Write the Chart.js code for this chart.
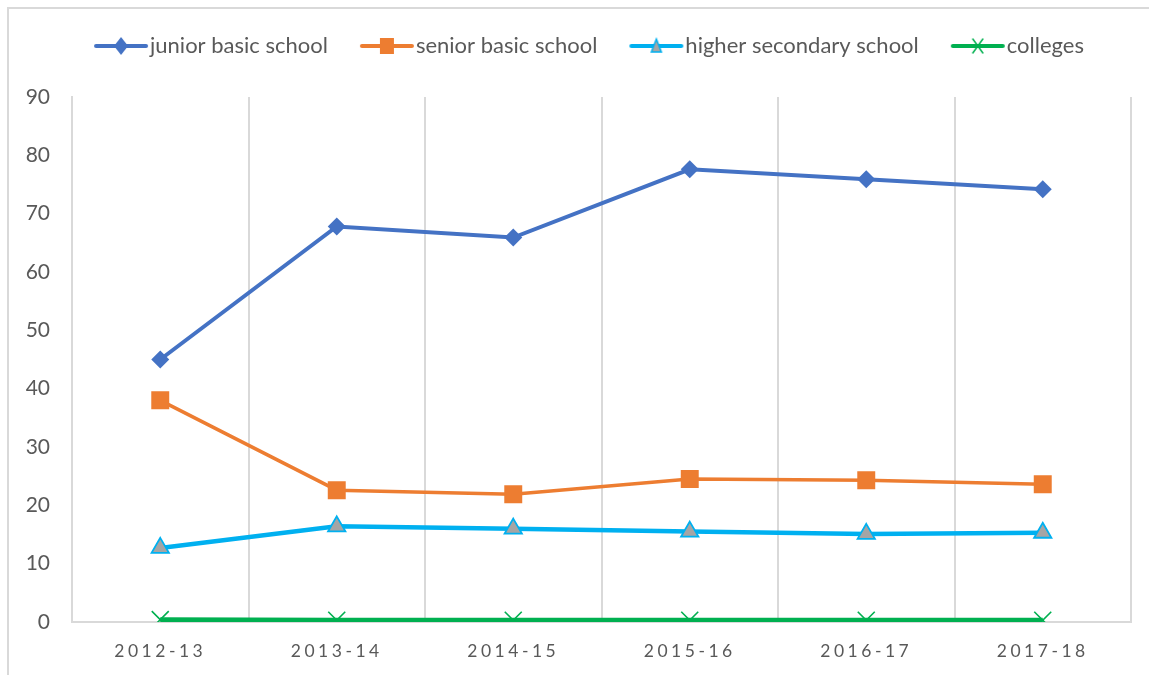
<!DOCTYPE html>
<html>
<head>
<meta charset="utf-8">
<script src="https://cdn.jsdelivr.net/npm/chart.js@4.4.1/dist/chart.umd.min.js"></script>
<style>
  html, body { margin: 0; padding: 0; background: #ffffff; }
  #wrap { position: relative; width: 1149px; height: 675px; }
  canvas { display: block; }
</style>
</head>
<body>
<div id="wrap"><canvas id="c" width="1149" height="675"></canvas></div>
<script>
const categories = ["2012-13", "2013-14", "2014-15", "2015-16", "2016-17", "2017-18"];
const juniorBasic = [45.0, 67.8, 65.9, 77.6, 75.9, 74.2];
const seniorBasic = [38.0, 22.6, 21.9, 24.5, 24.3, 23.6];
const higherSecondary = [12.7, 16.4, 16.0, 15.5, 15.1, 15.3];
const colleges = [0.4, 0.3, 0.3, 0.3, 0.3, 0.3];
const seriesNames = ["junior basic school", "senior basic school", "higher secondary school", "colleges"];
const yTicks = [0, 10, 20, 30, 40, 50, 60, 70, 80, 90];

const FONT = "Lato, 'Open Sans', 'DejaVu Sans', sans-serif";

function legendIcon(color, kind, fill) {
  const w = 56, h = 20;
  const c = document.createElement('canvas');
  c.width = w; c.height = h;
  const x = c.getContext('2d');
  x.strokeStyle = color; x.lineWidth = 4; x.lineCap = 'round';
  x.beginPath(); x.moveTo(3, h / 2); x.lineTo(w - 3, h / 2); x.stroke();
  const cx = w / 2, cy = h / 2;
  if (kind === 'diamond') {
    x.fillStyle = color; x.beginPath();
    x.moveTo(cx, cy - 9); x.lineTo(cx + 7, cy); x.lineTo(cx, cy + 9); x.lineTo(cx - 7, cy); x.closePath(); x.fill();
  } else if (kind === 'square') {
    x.fillStyle = color; x.fillRect(cx - 7, cy - 8, 14, 16);
  } else if (kind === 'triangle') {
    x.fillStyle = fill; x.lineWidth = 1.5; x.strokeStyle = color;
    x.beginPath(); x.moveTo(cx, cy - 7); x.lineTo(cx + 5, cy + 6); x.lineTo(cx - 5, cy + 6); x.closePath(); x.fill(); x.stroke();
  } else if (kind === 'cross') {
    x.strokeStyle = color; x.lineWidth = 1.5;
    x.beginPath(); x.moveTo(cx - 5, cy - 7); x.lineTo(cx + 5, cy + 7); x.moveTo(cx + 5, cy - 7); x.lineTo(cx - 5, cy + 7); x.stroke();
  }
  return c;
}

const icons = [
  legendIcon('#4472C4', 'diamond'),
  legendIcon('#ED7D31', 'square'),
  legendIcon('#00B0F0', 'triangle', '#A5A5A5'),
  legendIcon('#00B050', 'cross')
];

const frame = {
  id: 'frame',
  beforeDraw(chart) {
    const ctx = chart.ctx;
    ctx.save();
    ctx.strokeStyle = '#d9d9d9';
    ctx.lineWidth = 2;
    ctx.beginPath();
    ctx.moveTo(8, 675); ctx.lineTo(8, 8); ctx.lineTo(1149, 8);
    ctx.stroke();
    ctx.restore();
  }
};

const LEGEND_DX = 28, LEGEND_DY = -6, LEGEND_BOX_H = 97;
const tweaks = {
  id: 'tweaks',
  afterInit(chart) {
    const lg = chart.legend;
    if (lg && !lg._patched) {
      const of = lg.fit;
      lg.fit = function () { of.call(this); this.height = LEGEND_BOX_H; };
      const od = lg.draw;
      lg.draw = function () {
        const ctx = this.ctx;
        ctx.save(); ctx.translate(LEGEND_DX, LEGEND_DY); od.call(this); ctx.restore();
      };
      lg._patched = true;
    }
  },
  afterUpdate(chart) {
    const s = chart.scales.x;
    if (s && !s._spacedPatched) {
      const orig = s.drawLabels;
      s.drawLabels = function (area) {
        const ctx = this.ctx;
        ctx.save();
        ctx.letterSpacing = '3.5px';
        orig.call(this, area);
        ctx.restore();
      };
      s._spacedPatched = true;
    }
  }
};

new Chart(document.getElementById('c'), {
  type: 'line',
  data: {
    labels: categories,
    datasets: [
      { label: seriesNames[0], data: juniorBasic, borderColor: '#4472C4', backgroundColor: '#4472C4',
        borderWidth: 4, pointStyle: 'rectRot', pointRadius: 9, pointBorderWidth: 0, pointBackgroundColor: '#4472C4' },
      { label: seriesNames[1], data: seniorBasic, borderColor: '#ED7D31', backgroundColor: '#ED7D31',
        borderWidth: 3.5, pointStyle: 'rect', pointRadius: 12.7, pointBorderWidth: 0, pointBackgroundColor: '#ED7D31' },
      { label: seriesNames[2], data: higherSecondary, borderColor: '#00B0F0', backgroundColor: '#A5A5A5',
        borderWidth: 4.5, pointStyle: 'triangle', pointRadius: 10, pointBorderWidth: 1.8, pointBorderColor: '#00B0F0', pointBackgroundColor: '#A5A5A5' },
      { label: seriesNames[3], data: colleges, borderColor: '#00B050', backgroundColor: '#00B050',
        borderWidth: 5, pointStyle: 'crossRot', pointRadius: 12, pointBorderWidth: 1.6, pointBorderColor: '#00B050' }
    ]
  },
  options: {
    responsive: false,
    animation: false,
    layout: { padding: { left: 0, right: 18, top: 0, bottom: 0 } },
    plugins: {
      tooltip: { enabled: false },
      legend: {
        position: 'top',
        labels: {
          usePointStyle: true,
          pointStyleWidth: 36,
          padding: 41,
          color: '#595959',
          font: { family: FONT, size: 22 },
          generateLabels(chart) {
            return chart.data.datasets.map((d, i) => ({
              text: d.label,
              pointStyle: icons[i],
              fillStyle: d.borderColor,
              strokeStyle: d.borderColor,
              lineWidth: 0,
              hidden: false,
              datasetIndex: i,
              fontColor: '#595959'
            }));
          }
        }
      }
    },
    scales: {
      x: {
        offset: true,
        grid: { offset: true, color: '#d9d9d9', lineWidth: 2, drawTicks: false },
        border: { display: true, color: '#d9d9d9', width: 2 },
        ticks: { color: '#595959', font: { family: FONT, size: 17.5 }, padding: 19, maxRotation: 0 },
        afterFit(s) { s.height = 53; }
      },
      y: {
        min: 0, max: 90,
        afterBuildTicks(s) { s.ticks = yTicks.map(v => ({ value: v })); },
        grid: { display: false, drawTicks: false },
        border: { display: true, color: '#d9d9d9', width: 2 },
        ticks: { color: '#595959', font: { family: FONT, size: 21 }, padding: 22 },
        afterFit(s) { s.width = 72; }
      }
    }
  },
  plugins: [frame, tweaks]
});
</script>
</body>
</html>
